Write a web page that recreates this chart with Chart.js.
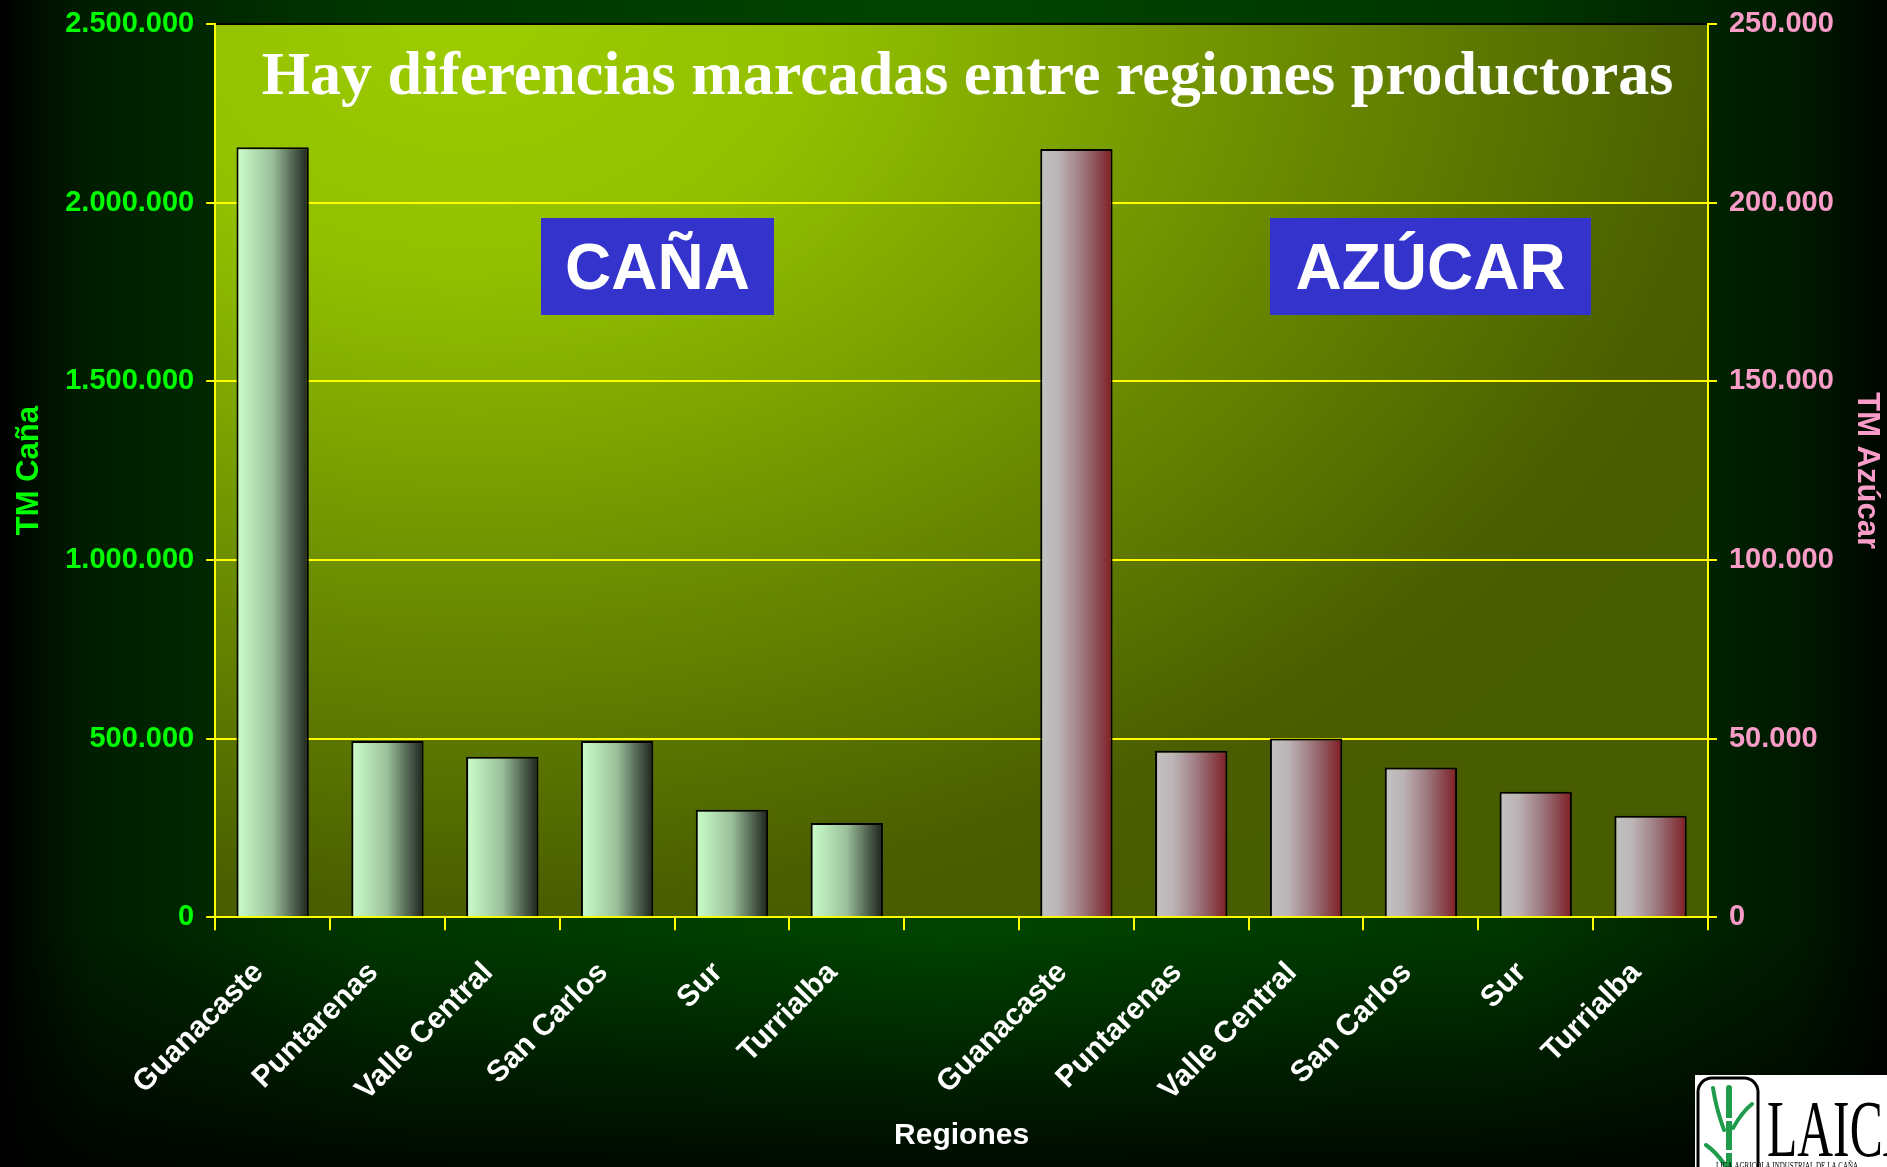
<!DOCTYPE html>
<html>
<head>
<meta charset="utf-8">
<script src="https://cdn.jsdelivr.net/npm/chart.js@4/dist/chart.umd.min.js"></script>
<style>
  html, body { margin: 0; padding: 0; background: #000; }
  canvas { display: block; }
</style>
</head>
<body>
<canvas id="chartRegiones" width="1887" height="1167"></canvas>
<script>
// regiones productoras (se repiten: bloque caña, hueco, bloque azúcar)
const regiones = ["Guanacaste", "Puntarenas", "Valle Central", "San Carlos", "Sur", "Turrialba"];
const etiquetas = [...regiones, "", ...regiones];

// toneladas métricas
const tmCana = [2155000, 493000, 449000, 493000, 301000, 264000];
const tmAzucar = [215000, 46600, 50000, 41900, 35100, 28400];

// ticks de los ejes
const canaMax = 2500000, canaPaso = 500000;
const azucarMax = 250000, azucarPaso = 50000;

const tituloTexto = "Hay diferencias marcadas entre regiones productoras";
const BAR_PCT = 0.63;

//--------------------------------------------------------
function conPuntos(v) {
  return String(v).replace(/\B(?=(\d{3})+(?!\d))/g, ".");
}

// gradient across each bar, built from the x scale
function barGradient(stops) {
  return (c) => {
    const sx = c.chart.scales.x;
    if (!sx || sx.width == null) return stops[0][1];
    const cx = sx.getPixelForValue(c.dataIndex);
    const w = (sx.width / etiquetas.length) * BAR_PCT;
    const g = c.chart.ctx.createLinearGradient(cx - w / 2, 0, cx + w / 2, 0);
    stops.forEach((s) => g.addColorStop(s[0], s[1]));
    return g;
  };
}

//--------------------------------------------------------
const fondoPlugin = {
  id: "fondo",
  beforeDraw(chart) {
    const { ctx, width, height, chartArea: a } = chart;
    ctx.save();
    // outer background
    const h = ctx.createLinearGradient(0, 0, width, 0);
    h.addColorStop(0, "#000000");
    h.addColorStop(0.012, "#000a00");
    h.addColorStop(0.05, "#001e00");
    h.addColorStop(0.2, "#003600");
    h.addColorStop(0.5, "#004400");
    h.addColorStop(0.8, "#003600");
    h.addColorStop(0.95, "#001a00");
    h.addColorStop(1, "#000600");
    ctx.fillStyle = h;
    ctx.fillRect(0, 0, width, height);
    const v = ctx.createLinearGradient(0, 0, 0, height);
    v.addColorStop(0, "rgba(0,0,0,0)");
    v.addColorStop(0.8, "rgba(0,0,0,0)");
    v.addColorStop(1, "rgba(0,0,0,0.85)");
    ctx.fillStyle = v;
    ctx.fillRect(0, 0, width, height);

    // plot area: elliptical radial gradient from top-left
    const cx = a.left + 250, cy = a.top;
    const rx = 1400, ry = 980;
    ctx.beginPath();
    ctx.rect(a.left, a.top, a.right - a.left, a.bottom - a.top);
    ctx.clip();
    ctx.translate(cx, cy);
    ctx.scale(1, ry / rx);
    const r = ctx.createRadialGradient(0, 0, 0, 0, 0, rx);
    r.addColorStop(0, "#9ccc00");
    r.addColorStop(0.25, "#92c000");
    r.addColorStop(0.6, "#6a8a00");
    r.addColorStop(0.9, "#4a5e00");
    r.addColorStop(1, "#485c00");
    ctx.fillStyle = r;
    ctx.fillRect(-cx, -cy * rx / ry, width, height * rx / ry);
    ctx.restore();
  },
};

const textosPlugin = {
  id: "textos",
  afterDraw(chart) {
    const { ctx, chartArea: a } = chart;
    ctx.save();
    // title inside the plot
    ctx.fillStyle = "#ffffff";
    ctx.font = "bold 62px 'Liberation Serif', 'Times New Roman', serif";
    ctx.textAlign = "center";
    ctx.textBaseline = "alphabetic";
    ctx.fillText(tituloTexto, (a.left + a.right) / 2 + 6, 94);

    // blue labels
    const cajas = [
      { t: "CAÑA", x: 541, y: 218, w: 233, h: 97 },
      { t: "AZÚCAR", x: 1270, y: 218, w: 321, h: 97 },
    ];
    cajas.forEach((b) => {
      ctx.fillStyle = "#3434cc";
      ctx.fillRect(b.x, b.y, b.w, b.h);
      ctx.fillStyle = "#ffffff";
      ctx.font = "bold 64px 'Liberation Sans', Arial, sans-serif";
      ctx.textAlign = "center";
      ctx.textBaseline = "middle";
      ctx.fillText(b.t, b.x + b.w / 2, b.y + b.h / 2 + 5);
    });

    // LAICA logo
    ctx.fillStyle = "#ffffff";
    ctx.fillRect(1695, 1075, 192, 92);
    ctx.strokeStyle = "#000000";
    ctx.lineWidth = 3;
    ctx.beginPath();
    ctx.roundRect(1698, 1078, 60, 110, 14);
    ctx.stroke();
    ctx.strokeStyle = "#1e9b4b";
    ctx.lineCap = "round";
    ctx.lineWidth = 6;
    ctx.beginPath();
    ctx.moveTo(1729, 1088); ctx.lineTo(1729, 1167);
    ctx.stroke();
    ctx.lineWidth = 4;
    ctx.beginPath();
    ctx.moveTo(1724, 1130); ctx.quadraticCurveTo(1716, 1108, 1713, 1088);
    ctx.moveTo(1733, 1128); ctx.quadraticCurveTo(1742, 1112, 1752, 1104);
    ctx.moveTo(1725, 1165); ctx.quadraticCurveTo(1716, 1152, 1706, 1145);
    ctx.stroke();
    ctx.fillStyle = "#ffffff";
    ctx.fillRect(1725, 1118, 8, 3);
    ctx.fillRect(1725, 1150, 8, 3);

    ctx.fillStyle = "#000000";
    ctx.save();
    ctx.translate(1767, 1156);
    ctx.scale(0.62, 1);
    ctx.font = "80px 'Liberation Serif', 'Times New Roman', serif";
    ctx.textAlign = "left";
    ctx.textBaseline = "alphabetic";
    ctx.fillText("LAICA", 0, 0);
    ctx.restore();
    ctx.save();
    ctx.translate(1787, 1166);
    ctx.scale(0.7, 1);
    ctx.font = "10px 'Liberation Serif', serif";
    ctx.fillText("LIGA AGRICOLA INDUSTRIAL DE LA CAÑA", 0, 0);
    ctx.restore();
    ctx.restore();
  },
};

//--------------------------------------------------------
Chart.defaults.font.family = "'Liberation Sans', Arial, sans-serif";

const vacios = regiones.map(() => null);
const ctx = document.getElementById("chartRegiones");

const config = {
  type: "bar",
  data: {
    labels: etiquetas,
    datasets: [
      {
        label: "TM Caña",
        data: [...tmCana, null, ...vacios],
        yAxisID: "y",
        backgroundColor: barGradient([
          [0, "#ccfccc"],
          [0.2, "#b8e6b8"],
          [0.5, "#9abf9a"],
          [0.75, "#5a6e5a"],
          [1, "#1c221c"],
        ]),
        borderColor: "#000000",
        borderWidth: 2,
      },
      {
        label: "TM Azúcar",
        data: [...vacios, null, ...tmAzucar],
        yAxisID: "y1",
        backgroundColor: barGradient([
          [0, "#c2c2c2"],
          [0.25, "#bcb4b6"],
          [0.55, "#a07f86"],
          [0.8, "#8a4a50"],
          [1, "#801c22"],
        ]),
        borderColor: "#000000",
        borderWidth: 2,
      },
    ],
  },
  options: {
    responsive: false,
    animation: false,
    layout: { padding: { top: 15, left: 11, right: 2, bottom: 10 } },
    datasets: {
      bar: { grouped: false, categoryPercentage: 1, barPercentage: BAR_PCT },
    },
    plugins: {
      legend: { display: false },
      tooltip: { enabled: false },
    },
    scales: {
      x: {
        grid: {
          offset: true,
          drawOnChartArea: false,
          color: "#ffff00",
          lineWidth: 2,
          tickLength: 13,
        },
        border: { display: true, color: "#ffff00", width: 2 },
        ticks: {
          color: "#ffffff",
          font: { size: 30, weight: "bold" },
          minRotation: 45,
          maxRotation: 45,
          autoSkip: false,
          padding: 25,
          labelOffset: -14,
        },
        title: {
          display: true,
          text: "Regiones",
          color: "#ffffff",
          font: { size: 30, weight: "bold", lineHeight: 1 },
          padding: { top: -12, bottom: 6 },
        },
      },
      y: {
        position: "left",
        min: 0,
        max: canaMax,
        ticks: {
          stepSize: canaPaso,
          color: "#00ff00",
          font: { size: 29, weight: "bold", lineHeight: 0.83 },
          padding: 12,
          callback: (v) => conPuntos(v),
        },
        grid: {
          color: (c) => (c.tick && c.tick.value === canaMax ? "#000000" : "#ffff00"),
          tickColor: "#ffff00",
          lineWidth: 2,
          tickLength: 9,
        },
        border: { display: true, color: "#ffff00", width: 2 },
        title: {
          display: true,
          text: "TM Caña",
          color: "#00ff00",
          font: { size: 31, weight: "bold" },
          padding: { top: 0, bottom: 5 },
        },
      },
      y1: {
        position: "right",
        min: 0,
        max: azucarMax,
        ticks: {
          stepSize: azucarPaso,
          color: "#f99cc8",
          font: { size: 29, weight: "bold", lineHeight: 0.83 },
          padding: 12,
          callback: (v) => conPuntos(v),
        },
        grid: {
          drawOnChartArea: false,
          color: "#ffff00",
          lineWidth: 2,
          tickLength: 9,
        },
        border: { display: true, color: "#ffff00", width: 2 },
        title: {
          display: true,
          text: "TM Azúcar",
          color: "#f99cc8",
          font: { size: 31, weight: "bold" },
          padding: { top: 0, bottom: 2 },
        },
      },
    },
  },
  plugins: [fondoPlugin, textosPlugin],
};

const chart = new Chart(ctx, config);
console.log("chartArea", JSON.stringify(chart.chartArea));
</script>
</body>
</html>
